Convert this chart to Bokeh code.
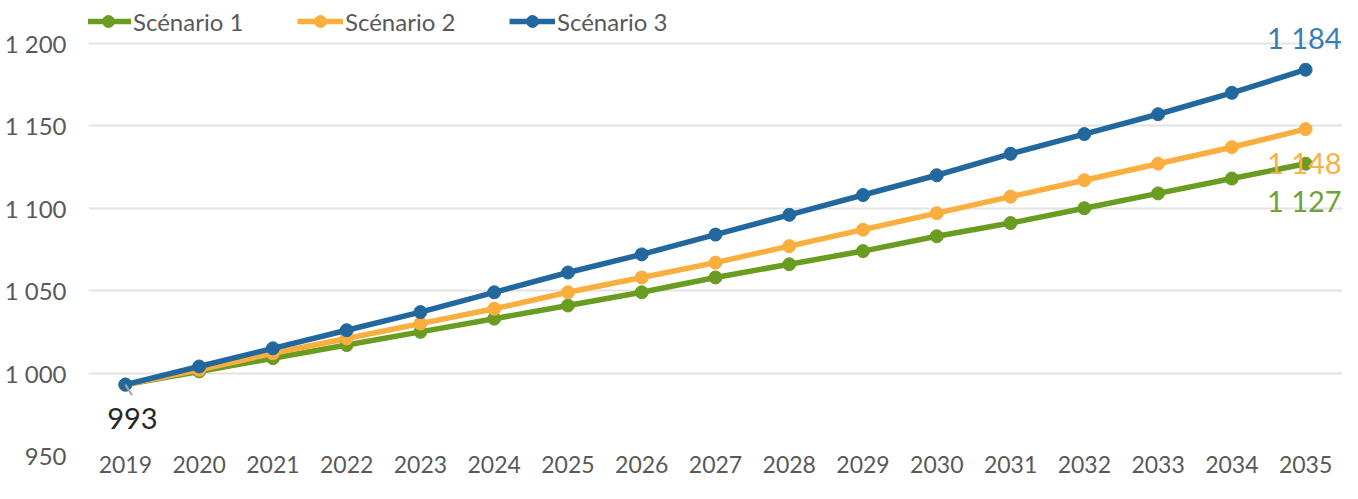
from bokeh.plotting import figure
from bokeh.models import (FactorRange, Range1d, FixedTicker, Legend, LegendItem,
                          ColumnDataSource)
from bokeh.transform import dodge
from bokeh.core.properties import value
from bokeh.embed import file_html
from bokeh.resources import INLINE

years = [str(y) for y in range(2019, 2036)]
scenario1 = [993, 1001, 1009, 1017, 1025, 1033, 1041, 1049, 1058, 1066, 1074, 1083, 1091, 1100, 1109, 1118, 1127]
scenario2 = [993, 1002, 1012, 1021, 1030, 1039, 1049, 1058, 1067, 1077, 1087, 1097, 1107, 1117, 1127, 1137, 1148]
scenario3 = [993, 1004, 1015, 1026, 1037, 1049, 1061, 1072, 1084, 1096, 1108, 1120, 1133, 1145, 1157, 1170, 1184]
series_names = ["Scénario 1", "Scénario 2", "Scénario 3"]
y_ticks = [950, 1000, 1050, 1100, 1150, 1200]
y_tick_labels = ["950", "1 000", "1 050", "1 100", "1 150", "1 200"]

colors = ["#6A9C22", "#F9AE3E", "#22689E"]
label_colors = ["#6FA13A", "#F9B044", "#3A7DB5"]
FONT = "Lato"
GRAY = "#595959"

p = figure(width=1342, height=483, x_range=FactorRange(factors=years),
           y_range=Range1d(950, 1226), output_backend="svg", toolbar_location=None,
           min_border_left=88, min_border_right=0, min_border_top=0, min_border_bottom=28)
p.outline_line_color = None
p.background_fill_color = "white"
p.border_fill_color = "white"

p.xgrid.grid_line_color = None
p.ygrid.grid_line_color = "#E3E3E3"
p.ygrid.grid_line_width = 2
p.yaxis.ticker = FixedTicker(ticks=y_ticks)
p.yaxis.major_label_overrides = {t: l for t, l in zip(y_ticks, y_tick_labels)}
for ax in (p.xaxis[0], p.yaxis[0]):
    ax.axis_line_color = None
    ax.major_tick_line_color = None
    ax.minor_tick_line_color = None
    ax.major_tick_out = 0
    ax.major_tick_in = 0
    ax.minor_tick_out = 0
    ax.minor_tick_in = 0
    ax.major_label_text_font = FONT
    ax.major_label_text_color = GRAY
p.xaxis.major_label_text_font_size = "23px"
p.yaxis.major_label_text_font_size = "24px"
p.xaxis.major_label_standoff = 0
p.yaxis.major_label_standoff = 22

items = []
for name, vals, c in zip(series_names, [scenario1, scenario2, scenario3], colors):
    src = ColumnDataSource(dict(x=years, y=vals))
    r1 = p.line("x", "y", source=src, line_color=c, line_width=5.5)
    r2 = p.scatter("x", "y", source=src, size=13, fill_color=c, line_color=c)
    items.append(LegendItem(label=name, renderers=[r1, r2]))

legend = Legend(items=items, orientation="horizontal", location=(-3, 419),
                label_text_font=FONT, label_text_color=GRAY, label_text_font_size="24px",
                glyph_width=46, glyph_height=30, label_height=30, label_width=130,
                label_standoff=2, spacing=34, padding=0, margin=0,
                border_line_color=None, background_fill_alpha=0)
p.add_layout(legend, "center")

# leader line for first value
lsrc = ColumnDataSource(dict(x=[years[0]], y0=[scenario3[0]], y1=[scenario3[0] - 6.5]))
p.segment(x0="x", y0="y0", x1=dodge("x", 0.09, range=p.x_range), y1="y1", source=lsrc,
          line_color="#A6A6A6", line_width=2)

# data labels
p.text(x=[years[0]], y=[scenario3[0]], text=["993"], text_color="#262626",
       text_font=value(FONT), text_font_size="29px", text_align="center",
       text_baseline="middle", x_offset=7, y_offset=34)
end_vals = [scenario1[-1], scenario2[-1], scenario3[-1]]
end_offsets = [37, 33, -32]
for v, c, dy in zip(end_vals, label_colors, end_offsets):
    lab = "{:,}".format(v).replace(",", " ")
    p.text(x=[years[-1]], y=[v], text=[lab], text_color=c, text_font=value(FONT),
           text_font_size="29px", text_align="right", text_baseline="middle",
           x_offset=36, y_offset=dy)

open("out.html", "w").write(file_html(p, INLINE))
